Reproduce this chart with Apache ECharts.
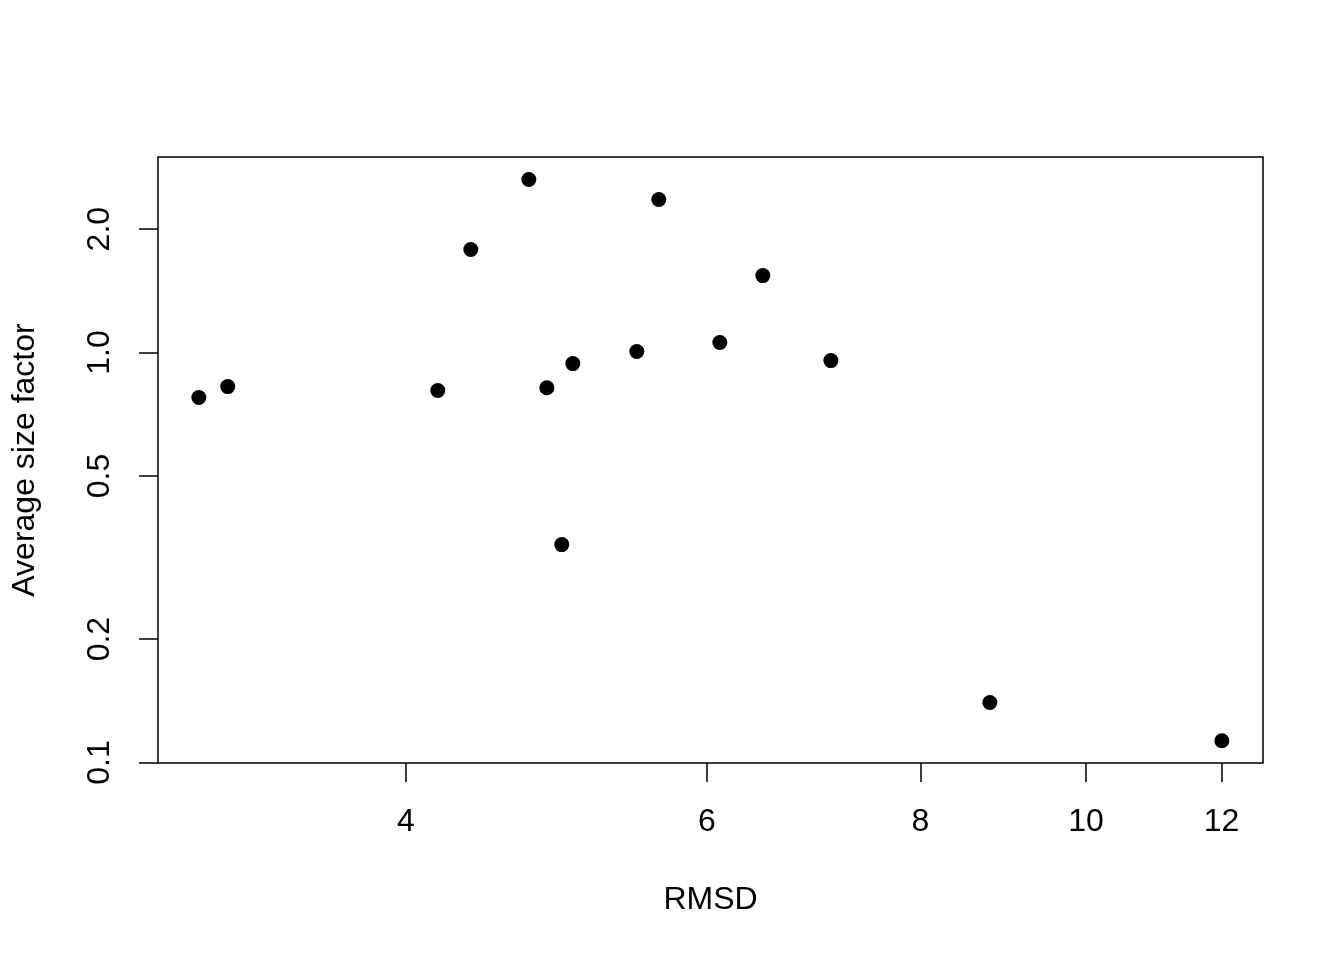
<!DOCTYPE html>
<html>
<head>
<meta charset="utf-8">
<script src="https://cdn.jsdelivr.net/npm/echarts@6/dist/echarts.min.js"></script>
<style>
html,body{margin:0;padding:0;background:#fff;}
#chart{width:1344px;height:960px;}
</style>
</head>
<body>
<div id="chart"></div>
<script>
// Data (log-log scatter)
const rmsd = [3.027, 3.147, 4.176, 4.366, 4.721, 4.837, 4.935, 5.009, 5.460, 5.624, 6.106, 6.470, 7.091, 8.784, 12.006];
const sizeFactor = [0.777, 0.826, 0.808, 1.784, 2.643, 0.821, 0.340, 0.940, 1.006, 2.362, 1.058, 1.541, 0.956, 0.140, 0.113];
const xTicks = [4, 6, 8, 10, 12];
const xTickLabels = ['4', '6', '8', '10', '12'];
const yTicks = [0.1, 0.2, 0.5, 1, 2];
const yTickLabels = ['0.1', '0.2', '0.5', '1.0', '2.0'];
const xName = 'RMSD';
const yName = 'Average size factor';

function labelFor(ticks, labels) {
  return function (v) {
    let best = 0, bd = Infinity;
    ticks.forEach((t, i) => { const d = Math.abs(Math.log(v) - Math.log(t)); if (d < bd) { bd = d; best = i; } });
    return labels[best];
  };
}

const font = 'Liberation Sans, Arial, Helvetica, sans-serif';
const fs = 32;
const chart = echarts.init(document.getElementById('chart'), null, {renderer: 'canvas'});
chart.setOption({
  animation: false,
  backgroundColor: '#ffffff',
  grid: {
    left: 158, right: 81, top: 157, bottom: 197,
    show: true, borderColor: '#000', borderWidth: 1.5,
    containLabel: false, outerBoundsMode: 'none'
  },
  xAxis: {
    type: 'log', logBase: 10,
    min: 2.865, max: 12.69,
    name: xName, nameLocation: 'middle', nameGap: 121,
    nameTextStyle: {color: '#000', fontSize: fs, fontFamily: font},
    axisLine: {show: false},
    splitLine: {show: false},
    minorTick: {show: false},
    axisTick: {show: true, length: 19, lineStyle: {color: '#000', width: 1.5}, customValues: xTicks},
    axisLabel: {color: '#000', fontSize: fs, fontFamily: font, margin: 43, customValues: xTicks,
      formatter: labelFor(xTicks, xTickLabels)}
  },
  yAxis: {
    type: 'log', logBase: 10,
    min: 0.0997, max: 3.0,
    name: yName, nameLocation: 'middle', nameGap: 117, nameRotate: 90,
    nameTextStyle: {color: '#000', fontSize: fs, fontFamily: font},
    axisLine: {show: false},
    splitLine: {show: false},
    minorTick: {show: false},
    axisTick: {show: true, length: 19, lineStyle: {color: '#000', width: 1.5}, customValues: yTicks},
    axisLabel: {color: '#000', fontSize: fs, fontFamily: font, margin: 42, rotate: 90, customValues: yTicks,
      formatter: labelFor(yTicks, yTickLabels)}
  },
  series: [{
    type: 'scatter',
    data: rmsd.map((x, i) => [x, sizeFactor[i]]),
    symbol: 'circle', symbolSize: 15,
    itemStyle: {color: '#000', opacity: 1},
    emphasis: {disabled: true}
  }]
});
</script>
</body>
</html>
